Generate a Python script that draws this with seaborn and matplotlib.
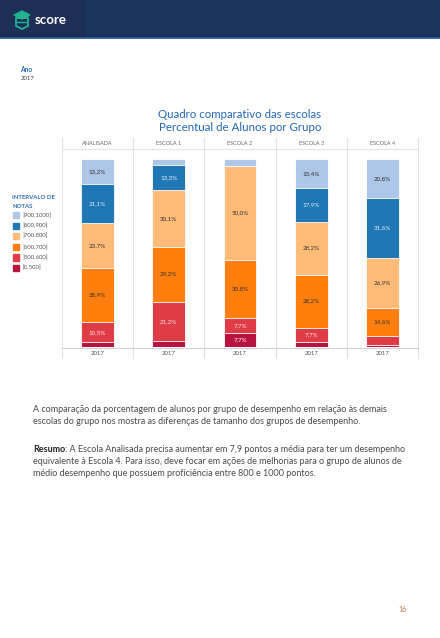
import numpy as np
import pandas as pd
import seaborn as sns
import matplotlib.pyplot as plt
from matplotlib.patches import Rectangle, Polygon
from matplotlib.lines import Line2D

# Data
schools = ["ANALISADA", "ESCOLA 1", "ESCOLA 2", "ESCOLA 3", "ESCOLA 4"]
year_labels = ["2017", "2017", "2017", "2017", "2017"]
intervals = ["[0,500]", "]500,600]", "]600,700]", "]700,800]", "]800,900]", "]900,1000]"]
colors = ["#b8143f", "#e03c47", "#ff7f0e", "#ffbb78", "#1f77b4", "#aec7e8"]
label_colors = ["white", "#fbe4e4", "#333333", "#333333", "#e6eef8", "#333333"]

pct_0_500 = [2.6, 3.0, 7.7, 2.6, 1.2]
pct_500_600 = [10.5, 21.2, 7.7, 7.7, 4.9]
pct_600_700 = [28.9, 29.2, 30.8, 28.2, 14.6]
pct_700_800 = [23.7, 30.1, 50.0, 28.2, 26.9]
pct_800_900 = [21.1, 13.3, 0.0, 17.9, 31.6]
pct_900_1000 = [13.2, 3.2, 3.8, 15.4, 20.8]

df = pd.DataFrame({"escola": schools})
levels = [pct_0_500, pct_500_600, pct_600_700, pct_700_800, pct_800_900, pct_900_1000]
for name, vals in zip(intervals, levels):
    df[name] = vals
cum = df[intervals].cumsum(axis=1)

W, H = 440, 638
fx = lambda x: x / W
fy = lambda y: 1 - y / H

sns.set_style("white")
plt.rcParams["font.family"] = ["Lato", "DejaVu Sans"]

fig = plt.figure(figsize=(4.4, 6.38), dpi=100)

# header band
fig.patches.append(Rectangle((0, fy(37)), 1, 37 / H, transform=fig.transFigure,
                             color="#1b355d", zorder=0))
fig.patches.append(Rectangle((0, fy(37)), fx(84), 37 / H, transform=fig.transFigure,
                             color="#1e2f57", zorder=1))
fig.lines.append(Line2D([0, 1], [fy(37.5), fy(37.5)], transform=fig.transFigure,
                        color="#2f5d9c", lw=1.2))
# logo
green = "#1fb58f"
fig.patches.append(Polygon([[fx(14), fy(15)], [fx(22), fy(11)], [fx(30), fy(15)], [fx(22), fy(19)]],
                           closed=True, transform=fig.transFigure, color=green, zorder=2))
fig.patches.append(Polygon([[fx(16), fy(18)], [fx(28), fy(18)], [fx(28), fy(26)], [fx(22), fy(29)], [fx(16), fy(26)]],
                           closed=True, transform=fig.transFigure, fill=False, ec=green, lw=1.3, zorder=2))
fig.lines.append(Line2D([fx(17), fx(27)], [fy(22), fy(22)], transform=fig.transFigure, color=green, lw=1))
fig.text(fx(35), fy(20.5), "score", color="white", fontsize=9.5, fontweight="bold", va="center", ha="left")

fig.text(fx(20), fy(70), "Ano", color="#2e6db4", fontsize=4.8, fontweight="bold", va="center")
fig.text(fx(21), fy(78), "2017", color="#444444", fontsize=4.3, va="center")

fig.text(fx(240), fy(114), "Quadro comparativo das escolas", color="#2367b7", fontsize=8.3,
         ha="center", va="center")
fig.text(fx(240), fy(128), "Percentual de Alunos por Grupo", color="#2367b7", fontsize=8.3,
         ha="center", va="center")

# chart axes
x0, x1, ytop, ybot = 62, 418, 149, 347
ax = fig.add_axes([fx(x0), fy(ybot), (x1 - x0) / W, (ybot - ytop) / H])
for i in range(len(intervals) - 1, -1, -1):
    sns.barplot(x=df["escola"], y=cum[intervals[i]], order=schools, color=colors[i], saturation=1,
                width=0.46, edgecolor="white", linewidth=0.6, ax=ax, zorder=3)

for i, name in enumerate(intervals):
    vals = df[name].values
    bottoms = cum[name].values - vals
    for j, v in enumerate(vals):
        if v >= 5:
            ax.text(j, bottoms[j] + v / 2, f"{v:.1f}%".replace(".", ","), ha="center", va="center",
                    fontsize=4.5, color=label_colors[i], zorder=5)

ax.set_xlim(-0.5, 4.5)
ax.set_ylim(0, 100 + 10 / 188 * 100)
ax.set_xlabel("")
ax.set_ylabel("")
ax.set_yticks([])
ax.set_xticks(range(len(schools)))
ax.set_xticklabels(year_labels, fontsize=4.3, color="#555555")
ax.tick_params(axis="x", length=0, pad=3)
for s in ax.spines.values():
    s.set_visible(False)

# facet grid lines
grid_c = "#e3e3e3"
col_w = (x1 - x0) / 5
for k in range(6):
    xx = x0 + k * col_w
    fig.lines.append(Line2D([fx(xx), fx(xx)], [fy(138), fy(358)], transform=fig.transFigure,
                            color=grid_c, lw=0.8, zorder=1))
fig.lines.append(Line2D([fx(x0), fx(x1)], [fy(149), fy(149)], transform=fig.transFigure,
                        color=grid_c, lw=0.8))
fig.lines.append(Line2D([fx(x0), fx(x1)], [fy(347.5), fy(347.5)], transform=fig.transFigure,
                        color="#d0d0d0", lw=0.8, zorder=6))
for k, name in enumerate(schools):
    fig.text(fx(x0 + (k + 0.5) * col_w), fy(143.5), name, fontsize=4, color="#666666",
             ha="center", va="center")

# legend
fig.text(fx(12), fy(198), "INTERVALO DE", color="#2e6db4", fontsize=4.3, fontweight="bold", va="center")
fig.text(fx(12), fy(206), "NOTAS", color="#2e6db4", fontsize=4.3, fontweight="bold", va="center")
leg_y = [268, 257.5, 247, 236, 225.5, 215]
for i, name in enumerate(intervals):
    fig.patches.append(Rectangle((fx(13), fy(leg_y[i] + 3)), 6 / W, 6 / H, transform=fig.transFigure,
                                 color=colors[i]))
    fig.text(fx(22.5), fy(leg_y[i]), name, fontsize=4.3, color="#555555", va="center")

# body text
body_c = "#4a4a4a"
fs = 6.5
fig.text(fx(33), fy(410), "A comparação da porcentagem de alunos por grupo de desempenho em relação às demais",
         fontsize=fs, color=body_c, va="center")
fig.text(fx(33), fy(422), "escolas do grupo nos mostra as diferenças de tamanho dos grupos de desempenho.",
         fontsize=fs, color=body_c, va="center")
r = fig.canvas.get_renderer()
t = fig.text(fx(33), fy(449), "Resumo", fontsize=fs, color="#222222", fontweight="bold", va="center")
bb = t.get_window_extent(renderer=r)
fig.text(bb.x1 / fig.bbox.width, fy(449),
         ": A Escola Analisada precisa aumentar em 7,9 pontos a média para ter um desempenho",
         fontsize=fs, color=body_c, va="center")
fig.text(fx(33), fy(461), "equivalente à Escola 4. Para isso, deve focar em ações de melhorias para o grupo de alunos de",
         fontsize=fs, color=body_c, va="center")
fig.text(fx(33), fy(473), "médio desempenho que possuem proficiência entre 800 e 1000 pontos.",
         fontsize=fs, color=body_c, va="center")

fig.text(fx(402), fy(610), "16", fontsize=5, color="#b87a45", ha="center", va="center")

fig.savefig("out.png", dpi=100)
